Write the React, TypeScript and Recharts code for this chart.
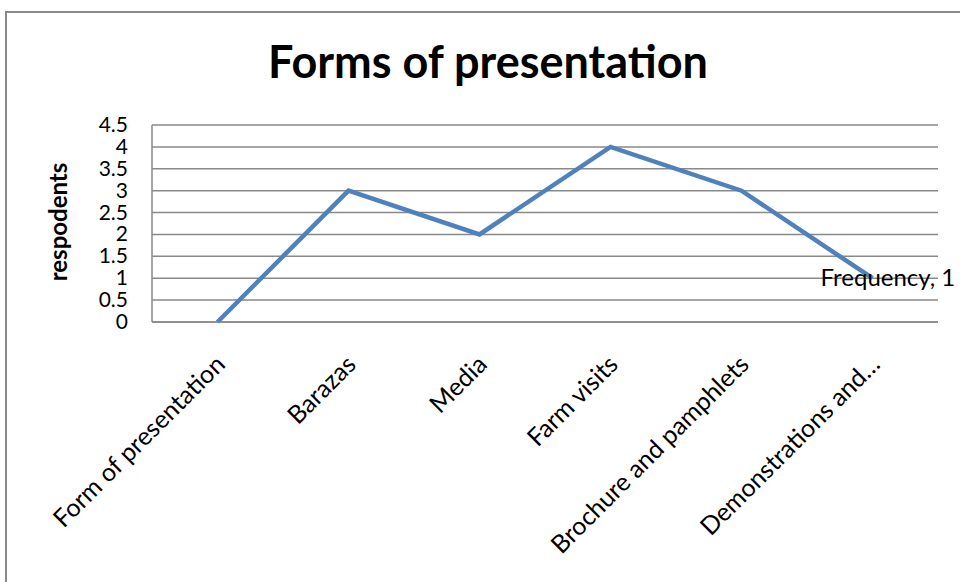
import React from "react";
import { CartesianGrid, LabelList, Line, LineChart, XAxis, YAxis } from "recharts";

const categories = [
  "Form of presentation",
  "Barazas",
  "Media",
  "Farm visits",
  "Brochure and pamphlets",
  "Demonstrations and…",
];
const frequency = [0, 3, 2, 4, 3, 1];
const yTicks = [0, 0.5, 1, 1.5, 2, 2.5, 3, 3.5, 4, 4.5];

const data = categories.map((name, i) => ({ name, frequency: frequency[i] }));

const FONT = "Lato, 'Noto Sans', sans-serif";
const GRID = "#898989";

const XTick = (props: any) => {
  const { x, payload } = props;
  const ax = x + 9;
  const ay = 366;
  return (
    <text
      x={ax}
      y={ay}
      transform={`rotate(-45, ${ax}, ${ay})`}
      textAnchor="end"
      fontSize={25}
      fontFamily={FONT}
      fill="#000"
    >
      {payload.value}
    </text>
  );
};

const YTick = (props: any) => {
  const { y, payload } = props;
  return (
    <text x={128} y={y} dy={7} textAnchor="end" fontSize={21} fontFamily={FONT} fill="#000">
      {payload.value}
    </text>
  );
};

const PointLabel = (props: any) => {
  const { x, y, index, value } = props;
  if (index !== categories.length - 1) return null;
  return (
    <text x={x - 52} y={y} dy={8} fontSize={24} fontFamily={FONT} fill="#000">
      {`Frequency, ${value}`}
    </text>
  );
};

export default function App() {
  return (
    <div
      style={{
        position: "absolute",
        left: 0,
        top: 0,
        width: 960,
        height: 582,
        overflow: "hidden",
        background: "#fff",
      }}
    >
      <div
        style={{
          position: "absolute",
          left: 5,
          top: 11,
          width: 980,
          height: 620,
          border: `2px solid ${GRID}`,
        }}
      />
      <div
        style={{
          position: "absolute",
          left: 0,
          width: 976,
          top: 34,
          textAlign: "center",
          fontFamily: FONT,
          fontWeight: 700,
          fontSize: 45,
          lineHeight: "54px",
        }}
      >
        Forms of presentation
      </div>
      <div
        style={{
          position: "absolute",
          left: 57,
          top: 222,
          transform: "translate(-50%, -50%) rotate(-90deg)",
          fontFamily: FONT,
          fontWeight: 700,
          fontSize: 24,
          whiteSpace: "nowrap",
        }}
      >
        respodents
      </div>
      <div style={{ position: "absolute", left: 0, top: 0 }}>
        <LineChart
          width={960}
          height={582}
          data={data}
          margin={{ top: 125, right: 22, bottom: 0, left: 0 }}
        >
          <CartesianGrid vertical={false} stroke={GRID} strokeWidth={1.5} />
          <XAxis
            dataKey="name"
            interval={0}
            height={260}
            padding={{ left: 65.5, right: 65.5 }}
            tickLine={false}
            axisLine={{ stroke: GRID, strokeWidth: 1.5 }}
            tick={<XTick />}
          />
          <YAxis
            width={152}
            domain={[0, 4.5]}
            ticks={yTicks}
            interval={0}
            tickLine={false}
            axisLine={{ stroke: GRID, strokeWidth: 1.5 }}
            tick={<YTick />}
          />
          <Line
            type="linear"
            dataKey="frequency"
            stroke="#4F81BD"
            strokeWidth={4.5}
            dot={false}
            isAnimationActive={false}
          >
            <LabelList dataKey="frequency" content={<PointLabel />} />
          </Line>
        </LineChart>
      </div>
    </div>
  );
}
